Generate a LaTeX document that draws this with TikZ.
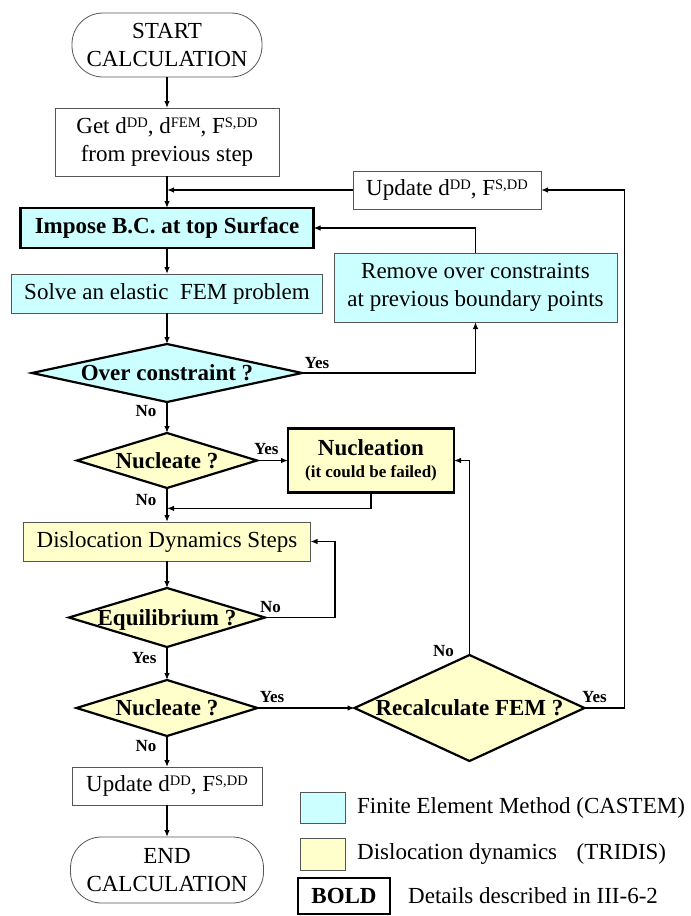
\documentclass[tikz,border=0pt]{standalone}
\usepackage{fontspec}
\setmainfont{Liberation Serif}
\usetikzlibrary{positioning,arrows.meta,calc,shapes.geometric}
\definecolor{femcyan}{HTML}{CCFFFF}
\definecolor{ddyellow}{HTML}{FFFFCC}
\definecolor{edgegray}{HTML}{555555}
\newcommand{\upidx}[1]{\raisebox{0.6ex}{\fontsize{14.5}{14.5}\selectfont #1}}
\tikzset{
  plainbox/.style={
    rectangle, draw=edgegray, line width=0.8pt, inner sep=0pt, outer sep=0pt,
    align=center, font=\fontsize{23}{27.5}\selectfont
  },
  fembox/.style={plainbox, fill=femcyan},
  ddbox/.style={plainbox, fill=ddyellow},
  boldbox/.style={
    draw=black, line width=2.6pt, outer sep=0pt,
    font=\bfseries\fontsize{23}{27.5}\selectfont
  },
  terminal/.style={plainbox, rounded corners=31pt},
  decision/.style={
    diamond, draw=black, line width=2.2pt, inner sep=0pt, outer sep=0pt,
    text height=15pt, text depth=0pt, font=\bfseries\fontsize{23}{27}\selectfont
  },
  legtext/.style={inner sep=0pt, font=\fontsize{23}{27.5}\selectfont},
  arr/.style={-{Latex[length=7pt,width=5.5pt]}, line width=1.3pt},
  lbl/.style={font=\bfseries\fontsize{17}{17}\selectfont, inner sep=2pt}
}

\begin{document}
\begin{tikzpicture}[x=1pt,y=-1pt]
\useasboundingbox (0,0) rectangle (691,916);

% main column
\node[terminal, minimum width=190pt, minimum height=64pt] (start) at (167,45) {START\\CALCULATION};
\node[plainbox, minimum width=224pt, minimum height=68pt, below=31pt of start] (getprev) {Get d\upidx{DD}, d\upidx{FEM}, F\upidx{S,DD}\\from previous step};
\node[fembox, boldbox, minimum width=293pt, minimum height=40pt, below=32pt of getprev] (impose) {Impose B.C. at top Surface};
\node[fembox, minimum width=311pt, minimum height=39pt, below=26pt of impose] (solve) {Solve an elastic\ \ FEM problem};
\node[decision, fill=femcyan, minimum width=270pt, minimum height=58pt, aspect=4.66, below=31pt of solve] (overc) {Over constraint ?};
\node[decision, fill=ddyellow, minimum width=180pt, minimum height=55pt, aspect=3.27, below=31pt of overc] (nucla) {Nucleate ?};
\node[ddbox, minimum width=287pt, minimum height=39pt, below=34pt of nucla] (ddsteps) {Dislocation Dynamics Steps};
\node[decision, fill=ddyellow, minimum width=196pt, minimum height=59pt, aspect=3.32, below=27pt of ddsteps] (equil) {Equilibrium ?};
\node[decision, fill=ddyellow, minimum width=181pt, minimum height=56pt, aspect=3.23, below=33pt of equil] (nuclb) {Nucleate ?};
\node[plainbox, minimum width=190pt, minimum height=38pt, below=31pt of nuclb] (updbot) {Update d\upidx{DD}, F\upidx{S,DD}};
\node[terminal, minimum width=193pt, minimum height=66pt, below=32pt of updbot] (finish) {END\\CALCULATION};

% side branches
\node[fembox, minimum width=283pt, minimum height=69pt] (remove) at (475.5,287.5) {Remove over constraints\\at previous boundary points};
\node[plainbox, minimum width=188pt, minimum height=38pt] (updtop) at (447,190) {Update d\upidx{DD}, F\upidx{S,DD}};
\node[ddbox, boldbox, minimum width=166pt, minimum height=64pt, right=31pt of nucla] (nucleation) {Nucleation\\[-5pt]{\fontsize{17}{20}\selectfont (it could be failed)}};
\node[decision, fill=ddyellow, minimum width=230pt, minimum height=106pt, aspect=2.17, right=97pt of nuclb] (recalc) {Recalculate FEM ?};

% legend
\node[plainbox, fill=femcyan, minimum width=45pt, minimum height=31pt] (legfem) at (322.5,807.5) {};
\node[plainbox, fill=ddyellow, minimum width=45pt, minimum height=32pt, below=15pt of legfem] (legdd) {};
\node[boldbox, minimum width=92pt, minimum height=36pt, inner sep=0pt] (legbold) at (344,896) {BOLD};
\node[legtext, right=12pt of legfem] (legfemtxt) {Finite Element Method (CASTEM)};
\node[legtext, right=12pt of legdd] (legddtxt) {Dislocation dynamics\hspace{0.6em} (TRIDIS)};
\node[legtext, right=18pt of legbold] (legboldtxt) {Details described in III-6-2};

% connectors
\draw[arr] (start) -- (getprev);
\draw[arr] (getprev) -- (impose);
\draw[arr] (updtop.west) -- (updtop.west -| getprev.south);
\draw[arr] (impose) -- (solve);
\draw[arr] (remove.north) |- (impose.east);
\draw[arr] (solve) -- (overc);
\draw[arr] (overc.east) node[lbl, anchor=south west, yshift=2pt]{Yes} -| (remove.south);
\draw[arr] (overc) -- node[lbl, left=8pt, pos=0.3]{No} (nucla);
\draw[arr] (nucla) -- node[lbl, above, pos=0.3, yshift=3pt]{Yes} (nucleation);
\draw[arr] (nucla) -- node[lbl, left=8pt, pos=0.35]{No} (ddsteps);
\draw[arr] (nucleation.south) |- ($(nucla.south)!0.6!(ddsteps.north)$);
\draw[arr] (ddsteps) -- (equil);
\draw[arr] (equil.east) -- node[lbl, above, pos=0.08, yshift=2pt]{No} ++(70,0) |- (ddsteps.east);
\draw[arr] (equil) -- node[lbl, left=8pt, pos=0.33]{Yes} (nuclb);
\draw[arr] (nuclb) -- node[lbl, above, pos=0.15, yshift=3pt]{Yes} (recalc);
\draw[arr] (nuclb) -- node[lbl, left=8pt, pos=0.32]{No} (updbot);
\draw[arr] (recalc.north) node[lbl, anchor=south east, xshift=-13pt, yshift=-4pt]{No} |- (nucleation.east);
\draw[arr] (recalc.east) -- node[lbl, above, pos=0.25, yshift=3pt]{Yes} ++(40,0) |- (updtop.east);
\draw[arr] (updbot) -- (finish);
\end{tikzpicture}
\end{document}
